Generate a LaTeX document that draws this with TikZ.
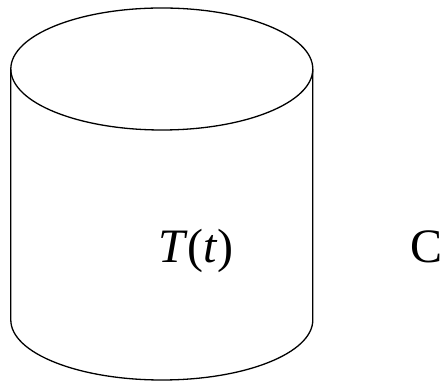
\documentclass[tikz,border=0pt]{standalone}
\usepackage{fontspec}
\setmainfont{Liberation Serif}
\begin{document}
\begin{tikzpicture}[x=1pt, y=1pt, line width=1.3pt,
    bigtext/.style={font=\fontsize{48}{50}\selectfont, inner sep=0pt, anchor=base}]
  \useasboundingbox (0,0) rectangle (440,382);
  % --- cylinder ---
  \draw (161.8,313) ellipse [x radius=151, y radius=61];
  \draw (10.8,313) -- (10.8,62)
    arc [start angle=180, end angle=360, x radius=151, y radius=60] -- (312.8,313);
  % --- labels ---
  \node[bigtext] (temp) at (196,119) {\textit{T}(\textit{t})};
  \node[bigtext, anchor=base west] (cap) at (410,119) {C};
\end{tikzpicture}
\end{document}
